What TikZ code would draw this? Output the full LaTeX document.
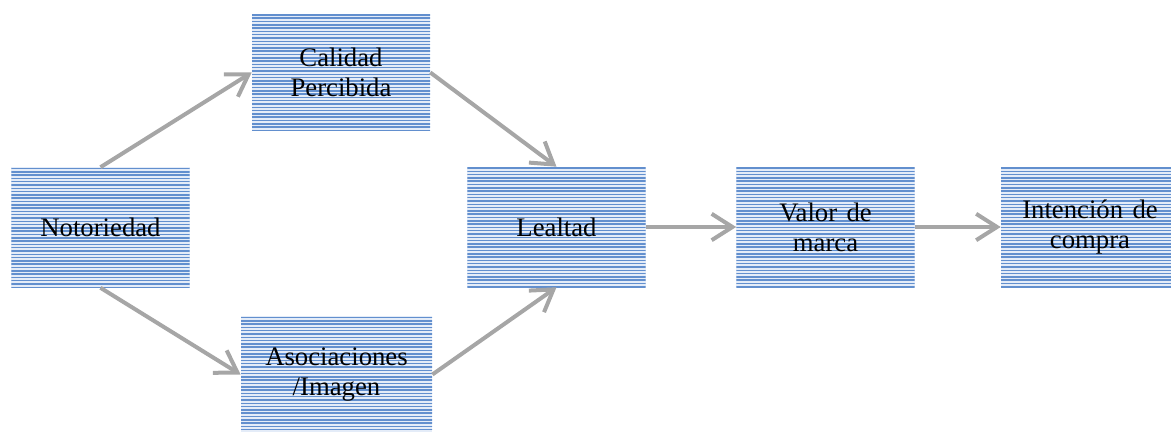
\documentclass[tikz,border=0pt]{standalone}
\usepackage{fontspec}
\setmainfont{Liberation Serif}
\usepackage{tikz}
\usetikzlibrary{arrows.meta}

\definecolor{raya}{RGB}{98,143,206}
\definecolor{fondo}{RGB}{228,236,248}
\definecolor{flecha}{RGB}{166,166,166}

\begin{document}
\begin{tikzpicture}[x=0.025cm, y=-0.025cm,
    bloque/.style={fill=fondo, minimum width=4.45cm, minimum height=3cm, inner sep=0pt,
      align=center, font=\fontsize{19}{21.5}\selectfont,
      path picture={
        \foreach \k in {0,...,40}
          \draw[raya, line width=0.038cm]
            (path picture bounding box.north west) ++(0,\k*3.3+1) -- ++(300,0);
      }},
    une/.style={draw=flecha, line width=0.1cm,
      -{Straight Barb[length=0.52cm, width=0.66cm]}}]
        \def \gap {\hspace{0.35em}}

        \useasboundingbox (0,0) rectangle (1171,432);

        \node[bloque] at (100.5,227.5) (noto) {Notoriedad};
        \node[bloque, minimum height=2.93cm] at (341,72.5) (cali) {Calidad\\Percibida};
        \node[bloque, minimum width=4.78cm, minimum height=2.9cm] at (336.5,374.5) (asoc) {Asociaciones\\/Imagen};
        \node[bloque] at (556.5,227) (leal) {Lealtad};
        \node[bloque] at (825.5,227) (valor) {Valor\gap de\\marca};
        \node[bloque] at (1090,227) (inte) {Intención\gap de\\compra};

        \draw[une] (noto.north) -- (cali.west);
        \draw[une] (noto.south) -- (asoc.west);
        \draw[une] (cali.east) -- (leal.north);
        \draw[une] (asoc.east) -- (leal.south);
        \foreach \a/\b in {leal/valor, valor/inte}
          \draw[une] (\a.east) -- (\b.west);
\end{tikzpicture}
\end{document}
